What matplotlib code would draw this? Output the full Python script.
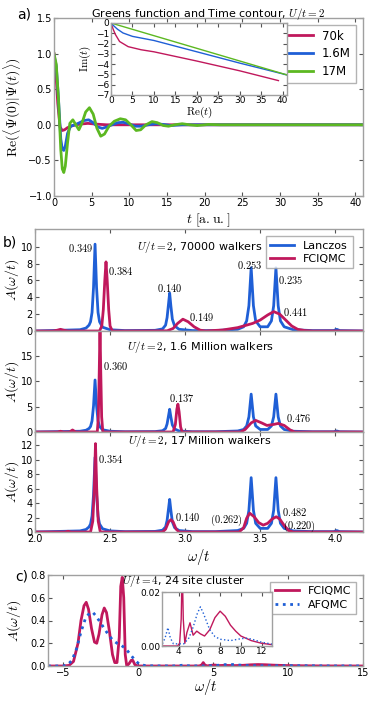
import matplotlib
matplotlib.use("Agg")
import matplotlib.pyplot as plt

plt.rcParams['mathtext.fontset'] = 'cm'
plt.rcParams['font.family'] = ['DejaVu Sans']

# ---------------- data ----------------
# Panel a: Re<Psi(0)|Psi(t)>
t_70k = [0, 0.2, 0.5, 0.8, 1.1, 1.4, 1.8, 2.5, 3.5, 4.5, 5.5, 7, 41]
g_70k = [1.0, 0.8, 0.3, -0.03, -0.08, -0.07, -0.04, -0.01, 0.01, 0.02, 0.01, 0.0, 0.0]
t_16M = [0, 0.3, 0.6, 0.9, 1.1, 1.3, 1.5, 1.8, 2.2, 2.8, 3.4, 4.0, 4.6, 5.2, 5.8, 6.4,
         7.0, 7.7, 8.5, 9.2, 10.0, 10.8, 11.6, 12.5, 13.5, 14.5, 15.5, 17, 41]
g_16M = [0.98, 0.82, 0.35, -0.2, -0.34, -0.36, -0.3, -0.12, -0.02, 0.0, 0.03, 0.06, 0.07,
         0.03, -0.03, -0.05, -0.03, 0.0, 0.03, 0.035, 0.01, -0.02, -0.02, 0.0, 0.015, 0.005,
         -0.01, 0.0, 0.0]
t_17M = [0, 0.3, 0.6, 0.9, 1.1, 1.3, 1.5, 1.8, 2.1, 2.5, 2.9, 3.3, 3.7, 4.2, 4.7, 5.2, 5.7,
         6.2, 6.7, 7.3, 8.0, 8.8, 9.5, 10.2, 10.9, 11.5, 12.2, 13.0, 13.7, 14.5, 15.2, 16.0,
         17.0, 18.0, 19.0, 20.5, 22, 41]
g_17M = [1.0, 0.85, 0.35, -0.35, -0.62, -0.67, -0.58, -0.25, 0.02, 0.07, 0.0, -0.07, 0.02,
         0.18, 0.24, 0.15, -0.05, -0.16, -0.13, -0.02, 0.05, 0.085, 0.07, 0.0, -0.08, -0.07,
         0.0, 0.045, 0.03, -0.01, -0.02, 0.0, 0.015, 0.0, -0.01, 0.005, 0.0, 0.0]
series_a = ["70k", "1.6M", "17M"]

# Panel a inset: time contour
re_70k = [0, 0.5, 1, 2, 4, 7, 10, 20, 30, 39]
im_70k = [0, -0.6, -1.1, -1.8, -2.3, -2.6, -2.8, -3.7, -4.65, -5.6]
re_16M = [0, 0.7, 1.5, 2.8, 5, 7.5, 10, 20, 30, 41]
im_16M = [0, -0.3, -0.6, -0.97, -1.3, -1.5, -1.7, -2.8, -3.9, -5.05]
re_17M = [0, 41]
im_17M = [0, -5.05]

# Panel b: spectral functions A(w/t)
w_lan = [2.00, 2.30, 2.34, 2.36, 2.37, 2.38, 2.39, 2.40, 2.41, 2.42, 2.43, 2.45, 2.50, 2.60,
         2.80, 2.85, 2.87, 2.88, 2.89, 2.897, 2.905, 2.915, 2.93, 2.96, 3.05, 3.20, 3.35,
         3.39, 3.41, 3.425, 3.44, 3.455, 3.47, 3.50, 3.55, 3.575, 3.59, 3.605, 3.62, 3.635,
         3.66, 3.72, 3.85, 3.99, 4.01, 4.03, 4.19]
a_lan = [0.0, 0.15, 0.35, 0.7, 1.1, 2.2, 5.2, 10.3, 5.2, 2.2, 1.1, 0.45, 0.15, 0.05,
         0.08, 0.25, 0.7, 1.6, 3.3, 4.5, 3.0, 1.4, 0.6, 0.2, 0.05, 0.05, 0.2,
         0.5, 1.2, 3.0, 7.5, 3.0, 1.2, 0.5, 0.5, 1.2, 3.0, 7.5, 3.0, 1.2,
         0.5, 0.15, 0.05, 0.05, 0.2, 0.05, 0.0]

w_70k = [2.00, 2.12, 2.15, 2.17, 2.19, 2.22, 2.43, 2.445, 2.455, 2.465, 2.473, 2.481, 2.491,
         2.50, 2.515, 2.88, 2.92, 2.95, 2.985, 3.02, 3.06, 3.10, 3.14, 3.15, 3.25, 3.35,
         3.45, 3.50, 3.55, 3.59, 3.63, 3.67, 3.71, 3.75, 3.80, 3.85, 4.19]
a_70k = [0.0, 0.0, 0.1, 0.2, 0.1, 0.0, 0.0, 0.6, 2.5, 6.0, 8.2, 6.0, 2.5,
         0.6, 0.0, 0.02, 0.3, 0.9, 1.4, 1.1, 0.5, 0.1, 0.0, 0.02, 0.12, 0.4,
         0.9, 1.3, 1.9, 2.3, 2.0, 1.3, 0.6, 0.2, 0.05, 0.0, 0.0]

w_16M = [2.00, 2.15, 2.17, 2.19, 2.23, 2.25, 2.27, 2.415, 2.422, 2.428, 2.433, 2.438, 2.444,
         2.452, 2.92, 2.935, 2.945, 2.952, 2.96, 2.97, 2.98, 3.37, 3.40, 3.44, 3.47, 3.51,
         3.545, 3.59, 3.62, 3.66, 3.70, 3.73, 4.19]
a_16M = [0.0, 0.0, 0.15, 0.0, 0.0, 0.4, 0.0, 0.0, 3.0, 12.0, 21.0, 12.0, 3.0,
         0.0, 0.0, 1.5, 4.5, 5.5, 4.0, 1.0, 0.0, 0.0, 0.5, 1.8, 2.3, 1.8,
         1.3, 1.5, 1.7, 1.3, 0.4, 0.0, 0.0]

w_17M = [2.00, 2.20, 2.22, 2.24, 2.37, 2.385, 2.395, 2.403, 2.411, 2.421, 2.435, 2.85, 2.87,
         2.89, 2.905, 2.92, 2.94, 2.96, 3.36, 3.39, 3.41, 3.43, 3.46, 3.49, 3.52, 3.55,
         3.58, 3.607, 3.63, 3.66, 3.69, 3.72, 4.19]
a_17M = [0.0, 0.0, 0.1, 0.0, 0.0, 1.5, 6.0, 12.2, 6.0, 1.5, 0.0, 0.0, 0.4,
         1.4, 1.7, 1.4, 0.4, 0.0, 0.0, 0.6, 1.9, 2.6, 2.1, 1.3, 0.95, 1.2,
         1.8, 2.1, 1.8, 0.9, 0.2, 0.0, 0.0]

# annotations (label, w, A) for the three walker counts
ann_70k = [("0.349", 2.385, 9.9, "right"), ("0.384", 2.487, 7.1, "left"),
           ("0.140", 2.90, 5.1, "center"), ("0.149", 3.027, 1.7, "left"),
           ("0.253", 3.433, 7.8, "center"), ("0.235", 3.62, 6.1, "left"),
           ("0.441", 3.653, 2.25, "left")]
ann_16M = [("0.360", 2.453, 13.1, "left"), ("0.137", 2.977, 6.7, "center"),
           ("0.476", 3.673, 2.8, "left")]
ann_17M = [("0.354", 2.42, 10.1, "left"), ("0.140", 2.933, 2.1, "left"),
           ("(0.262)", 3.387, 1.6, "right"), ("0.482", 3.647, 2.7, "left"),
           ("(0.220)", 3.653, 0.8, "left")]

# Panel c: U/t=4, 24 site cluster
w_fci = [-6, -5, -4.6, -4.3, -4.0, -3.8, -3.6, -3.45, -3.3, -3.1, -2.9, -2.75, -2.6, -2.4,
         -2.25, -2.1, -1.9, -1.7, -1.55, -1.4, -1.25, -1.15, -1.05, -0.95, -0.85, -0.75,
         -0.6, -0.45, -0.35, -0.2, 0.0, 3.9, 4.1, 4.25, 4.35, 4.45, 4.6, 4.8, 5.1, 5.4,
         5.75, 6.1, 6.5, 7.0, 7.5, 8.0, 8.5, 9.0, 9.5, 10.0, 11.0, 12.0, 13.0, 15.0]
a_fci = [0.0, 0.0, 0.005, 0.04, 0.2, 0.4, 0.53, 0.56, 0.5, 0.33, 0.21, 0.2, 0.28, 0.45,
         0.51, 0.47, 0.3, 0.1, 0.03, 0.03, 0.25, 0.7, 0.78, 0.6, 0.1, 0.0,
         0.02, 0.05, 0.05, 0.01, 0.0, 0.0, 0.001, 0.01, 0.03, 0.01, 0.001, 0.005, 0.0086, 0.004,
         0.0055, 0.0045, 0.0037, 0.006, 0.0105, 0.0129, 0.011, 0.0077, 0.0055, 0.0037, 0.002, 0.001, 0.0005, 0.0]
w_afq = [-6, -5, -4.7, -4.4, -4.1, -3.8, -3.5, -3.2, -3.0, -2.8, -2.5, -2.2, -2.0, -1.7,
         -1.4, -1.1, -0.8, -0.5, -0.2, 0.1, 0.5, 1.0, 2.4, 2.7, 2.97, 3.2, 3.5, 4.5, 5.0,
         5.4, 5.8, 6.1, 6.4, 7.0, 7.5, 8.0, 9.0, 10.0, 10.5, 11.0, 12.0, 13.0, 15.0]
a_afq = [0.0, 0.0, 0.01, 0.05, 0.15, 0.3, 0.42, 0.47, 0.47, 0.44, 0.38, 0.32, 0.28, 0.23,
         0.2, 0.18, 0.15, 0.1, 0.05, 0.015, 0.003, 0.001, 0.0005, 0.003, 0.0068, 0.003, 0.0008, 0.0008, 0.003,
         0.007, 0.012, 0.0145, 0.012, 0.006, 0.0035, 0.0025, 0.002, 0.0027, 0.0029, 0.0026, 0.0014, 0.0007, 0.0002]

# ---------------- style ----------------
MAG = '#c0185c'
BLU = '#1f5fd6'
GRN = '#5cb821'
SPINE = '#a0a0a0'
W, H = 374, 701

fig = plt.figure(figsize=(W / 100, H / 100), dpi=100)


def rect(l, t, r, b):
    return [l / W, 1 - b / H, (r - l) / W, (b - t) / H]


def style(ax, fs=7):
    for s in ax.spines.values():
        s.set_color(SPINE)
        s.set_linewidth(1.0)
    ax.tick_params(direction='in', length=3, width=0.8, color='#555555',
                   labelsize=fs, pad=1.5, top=True, right=True)


# ---------- panel a ----------
axa = fig.add_axes(rect(54, 18, 363, 196))
style(axa)
axa.plot(t_70k, g_70k, color=MAG, lw=2, label=series_a[0])
axa.plot(t_16M, g_16M, color=BLU, lw=2, label=series_a[1])
axa.plot(t_17M, g_17M, color=GRN, lw=2, label=series_a[2])
axa.set_xlim(0, 41)
axa.set_ylim(-1.0, 1.5)
axa.set_xticks(range(0, 41, 5))
axa.set_yticks([-1.0, -0.5, 0.0, 0.5, 1.0, 1.5])
axa.set_xlabel(r'$t\ [\mathrm{a.u.}]$', fontsize=10)
axa.xaxis.set_label_coords(0.5, -0.085)
axa.set_ylabel(r'$\mathrm{Re}(\langle\Psi(0)|\Psi(t)\rangle)$', fontsize=10)
axa.yaxis.set_label_coords(-0.10, 0.5)
axa.set_title(r'Greens function and Time contour, $U/t=2$', fontsize=8, pad=0.5)
leg = axa.legend(loc='upper right', fontsize=8.5, frameon=True, fancybox=False,
                 handlelength=2.2, borderpad=0.4, labelspacing=0.4,
                 bbox_to_anchor=(0.995, 0.995))
leg.get_frame().set_edgecolor(SPINE)
fig.text(17 / W, 1 - 15 / H, 'a)', fontsize=10, va='center', ha='left')

axi = fig.add_axes(rect(111, 23, 287, 95))
style(axi, fs=6.5)
axi.plot(re_70k, im_70k, color=MAG, lw=1)
axi.plot(re_16M, im_16M, color=BLU, lw=1)
axi.plot(re_17M, im_17M, color=GRN, lw=1)
axi.set_xlim(0, 41)
axi.set_ylim(-7, 0)
axi.set_xticks(range(0, 41, 5))
axi.set_yticks(range(-7, 1))
axi.tick_params(pad=1)
axi.set_xlabel(r'$\mathrm{Re}(t)$', fontsize=8, labelpad=0)
axi.set_ylabel(r'$\mathrm{Im}(t)$', fontsize=8, labelpad=0)
axi.xaxis.set_label_coords(0.5, -0.13)
axi.yaxis.set_label_coords(-0.10, 0.5)

# ---------- panel b ----------
b_rects = [(35, 229, 363, 331), (35, 331, 363, 432), (35, 432, 363, 532)]
b_fci = [(w_70k, a_70k), (w_16M, a_16M), (w_17M, a_17M)]
b_ylim = [12.1, 20.0, 13.8]
b_yticks = [[0, 2, 4, 6, 8, 10], [0, 5, 10, 15], [0, 2, 4, 6, 8, 10, 12]]
b_titles = [r'$U/t=2$, 70000 walkers', r'$U/t=2$, 1.6 Million walkers',
            r'$U/t=2$, 17 Million walkers']
b_title_y = [10.0, 16.8, 12.5]
b_anns = [ann_70k, ann_16M, ann_17M]
for i in range(3):
    ax = fig.add_axes(rect(*b_rects[i]))
    style(ax)
    ax.plot(w_lan, a_lan, color=BLU, lw=2, label='Lanczos')
    ax.plot(b_fci[i][0], b_fci[i][1], color=MAG, lw=2, label='FCIQMC')
    ax.set_xlim(2.0, 4.185)
    ax.set_ylim(0, b_ylim[i])
    ax.set_yticks(b_yticks[i])
    ax.set_xticks([2.0, 2.5, 3.0, 3.5, 4.0])
    if i < 2:
        ax.tick_params(labelbottom=False)
    else:
        ax.set_xlabel(r'$\omega/t$', fontsize=10.5)
        ax.xaxis.set_label_coords(0.5, -0.15)
    ax.set_ylabel(r'$A(\omega/t)$', fontsize=10)
    ax.yaxis.set_label_coords(-0.043, 0.5)
    ax.text(3.1, b_title_y[i], b_titles[i], fontsize=8, ha='center', va='center')
    for lab, x, y, ha in b_anns[i]:
        ax.text(x, y, r'$' + lab + r'$', fontsize=7.5, ha=ha, va='center')
    if i == 0:
        lg = ax.legend(loc='upper right', fontsize=8, frameon=True, fancybox=False,
                       handlelength=2.2, borderpad=0.4, labelspacing=0.3,
                       bbox_to_anchor=(0.985, 0.985))
        lg.get_frame().set_edgecolor(SPINE)
fig.text(3 / W, 1 - 243 / H, 'b)', fontsize=10, va='center', ha='left')

# ---------- panel c ----------
axc = fig.add_axes(rect(48, 575, 363, 666))
style(axc)
axc.plot(w_fci, a_fci, color=MAG, lw=2, label='FCIQMC')
axc.plot(w_afq, a_afq, color=BLU, lw=2, ls=':', label='AFQMC')
axc.set_xlim(-6, 15)
axc.set_ylim(0, 0.8)
axc.set_xticks([-5, 0, 5, 10, 15])
axc.set_yticks([0.0, 0.2, 0.4, 0.6, 0.8])
axc.set_xlabel(r'$\omega/t$', fontsize=10.5)
axc.xaxis.set_label_coords(0.5, -0.125)
axc.set_ylabel(r'$A(\omega/t)$', fontsize=10)
axc.yaxis.set_label_coords(-0.079, 0.5)
axc.text(3.05, 0.748, r'$U/t=4$, 24 site cluster', fontsize=8, ha='center', va='center')
lgc = axc.legend(loc='upper right', fontsize=8, frameon=True, fancybox=False,
                 handlelength=2.2, borderpad=0.4, labelspacing=0.3,
                 bbox_to_anchor=(0.995, 0.985))
lgc.get_frame().set_edgecolor(SPINE)
fig.text(15 / W, 1 - 576 / H, 'c)', fontsize=10, va='center', ha='left')

axci = fig.add_axes(rect(162, 592, 272, 646))
style(axci, fs=6.5)
axci.plot(w_fci, a_fci, color=MAG, lw=1)
axci.plot(w_afq, a_afq, color=BLU, lw=1, ls=':')
axci.set_xlim(2.4, 13.0)
axci.set_ylim(0, 0.02)
axci.set_xticks([4, 6, 8, 10, 12])
axci.set_yticks([0.0, 0.02])
axci.set_yticklabels(['0.00', '0.02'])
axci.tick_params(pad=1)

fig.savefig('out.png', dpi=100)
